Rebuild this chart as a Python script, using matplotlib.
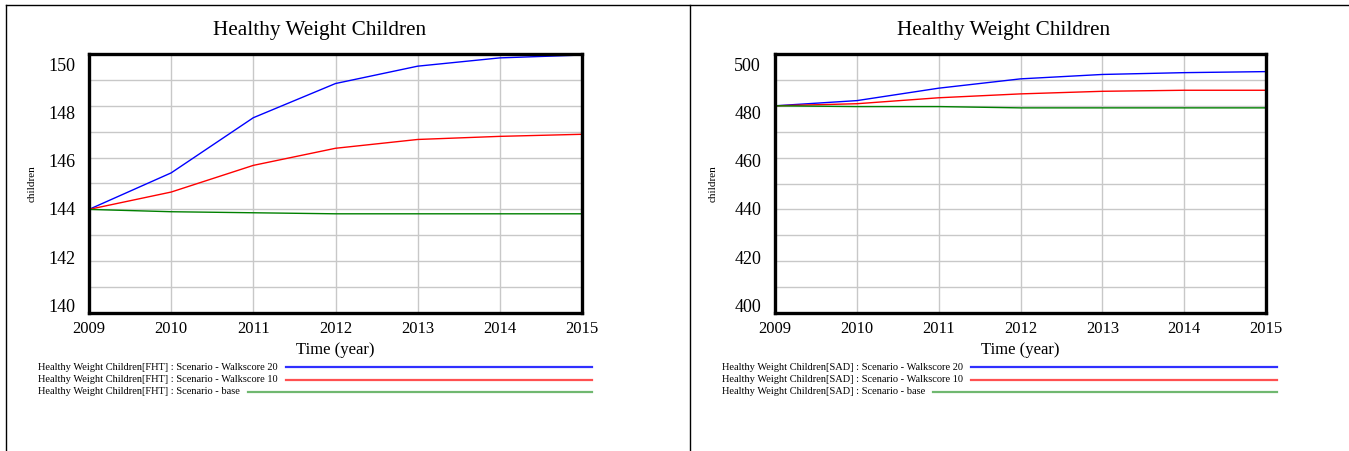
import numpy as np
import matplotlib
matplotlib.use('Agg')
import matplotlib.pyplot as plt
from matplotlib.lines import Line2D

plt.rcParams['font.family'] = ['Liberation Serif', 'DejaVu Serif']

years = [2009, 2010, 2011, 2012, 2013, 2014, 2015]

# FHT scenario runs
fht_walk20 = [144.0, 145.41, 147.54, 148.86, 149.53, 149.85, 149.96]
fht_walk10 = [144.0, 144.67, 145.70, 146.36, 146.70, 146.82, 146.90]
fht_base = [144.0, 143.91, 143.87, 143.83, 143.83, 143.83, 143.83]

# SAD scenario runs
sad_walk20 = [480.0, 482.0, 486.8, 490.4, 492.1, 492.8, 493.2]
sad_walk10 = [480.0, 480.8, 483.1, 484.6, 485.6, 486.0, 486.0]
sad_base = [480.0, 479.7, 479.7, 479.2, 479.2, 479.2, 479.2]

fht_ylim = (140, 150)
sad_ylim = (400, 500)

scenario_names = ['Scenario - Walkscore 20', 'Scenario - Walkscore 10', 'Scenario - base']
line_colors = ['#0000ff', '#ff0000', '#008000']
legend_colors = ['#3030ff', '#ff5050', '#70b870']

W, H = 1349, 451


def draw_panel(fig, px_box, series, ylim, region, legend_x, legend_end, ylabel_px, title_px):
    x0, y0, x1, y1 = px_box
    ax = fig.add_axes([x0 / W, 1 - y1 / H, (x1 - x0) / W, (y1 - y0) / H])
    lo, hi = ylim
    span = hi - lo
    for vals, c in zip(series, line_colors):
        ax.plot(years, vals, color=c, lw=1.0, zorder=3)
    ax.set_xlim(years[0], years[-1])
    ax.set_ylim(lo, hi)

    # grid every tenth of the range, value labels every fifth (Vensim-style spacing)
    ax.set_yticks(np.linspace(lo, hi, 11), minor=True)
    label_vals = np.linspace(lo, hi, 6)
    label_pos = lo + 0.03 * span + (label_vals - lo) * 0.93
    ax.set_yticks(label_pos, [f'{v:.0f}' for v in label_vals])
    ax.set_xticks(years, [str(y) for y in years])
    ax.grid(True, which='minor', axis='y', color='#c8c8c8', lw=1.0)
    ax.grid(True, which='major', axis='x', color='#c8c8c8', lw=1.0)
    ax.tick_params(which='both', length=0)
    ax.tick_params(axis='y', pad=10, labelsize=13)
    ax.tick_params(axis='x', pad=6, labelsize=12)
    for s in ax.spines.values():
        s.set_linewidth(2.4)
        s.set_color('black')
        s.set_zorder(4)

    fig.text(title_px / W, 1 - 30 / H, 'Healthy Weight Children',
             fontsize=15.3, ha='center', va='center')
    ax.set_xlabel('Time (year)', fontsize=12, labelpad=3)
    ax.set_ylabel('children', fontsize=8)
    ax.yaxis.set_label_coords((ylabel_px - x0) / (x1 - x0), 0.5)

    # legend: label text followed by a line running out to a common right edge
    renderer = fig.canvas.get_renderer()
    for i, (name, c) in enumerate(zip(scenario_names, legend_colors)):
        y = 1 - (367 + 12.5 * i) / H
        t = fig.text(legend_x / W, y, f'Healthy Weight Children[{region}] : {name}',
                     fontsize=7.5, va='center', ha='left')
        tx1 = t.get_window_extent(renderer).x1
        fig.add_artist(Line2D([(tx1 + 8) / W, legend_end / W], [y, y],
                              transform=fig.transFigure, color=c, lw=1.6))
    return ax


fig = plt.figure(figsize=(13.49, 4.51), dpi=100)

draw_panel(fig, (89, 54, 582, 313), [fht_walk20, fht_walk10, fht_base],
           fht_ylim, 'FHT', 38, 592, 37, 320)
draw_panel(fig, (775, 54, 1266, 313), [sad_walk20, sad_walk10, sad_base],
           sad_ylim, 'SAD', 722, 1277, 718, 1004)

# outer frame and panel divider
for xs, ys in [([6, W], [5, 5]), ([6, 6], [5, H]), ([690, 690], [5, H])]:
    fig.add_artist(Line2D([x / W for x in xs], [1 - y / H for y in ys],
                          transform=fig.transFigure, color='black', lw=1.0))

fig.savefig('out.png', dpi=100)
